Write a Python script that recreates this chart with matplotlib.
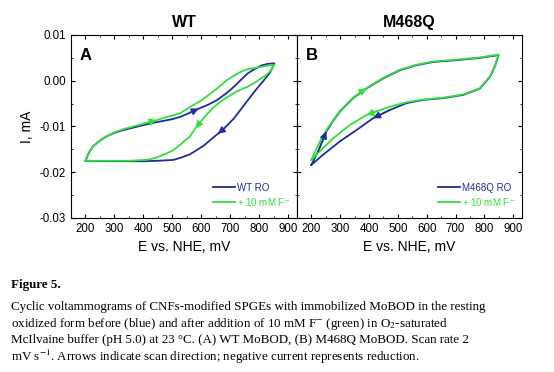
import matplotlib
matplotlib.use("Agg")
import matplotlib.pyplot as plt
from matplotlib.ticker import MultipleLocator, FormatStrFormatter

BLUE, GREEN = "#1f2d9b", "#2fe03a"

# panel A (WT): forward (anodic) and reverse (cathodic) branches, E in mV, I in mA
wt_ro_fwd_E = [200, 210, 225, 250, 272, 300, 330, 400, 450, 500, 527, 560, 591, 625, 655, 685, 713, 740, 760, 785, 806, 830, 852]
wt_ro_fwd_I = [-0.0175, -0.0160, -0.0144, -0.0131, -0.0122, -0.0114, -0.0108, -0.0097, -0.0090, -0.0084, -0.0079, -0.0070,
               -0.0061, -0.0052, -0.0042, -0.0028, -0.0013, 0.0004, 0.0016, 0.0026, 0.0033, 0.0037, 0.0038]
wt_ro_rev_E = [852, 845, 835, 812, 783, 748, 713, 673, 657, 632, 610, 586, 560, 530, 504, 450, 400, 300, 200]
wt_ro_rev_I = [0.0038, 0.0028, 0.0016, -0.0002, -0.0024, -0.0053, -0.0082, -0.0108, -0.0116, -0.0129, -0.0141, -0.0151,
               -0.0161, -0.0168, -0.0173, -0.0175, -0.0176, -0.0176, -0.0175]
wt_f_fwd_E = [200, 210, 225, 250, 272, 300, 330, 400, 446, 500, 527, 562, 600, 632, 660, 690, 715, 737, 765, 795, 820, 850]
wt_f_fwd_I = [-0.0175, -0.0160, -0.0144, -0.0131, -0.0122, -0.0113, -0.0106, -0.0094, -0.0086, -0.0076, -0.0071, -0.0057,
              -0.0043, -0.0028, -0.0014, 0.0002, 0.0012, 0.0020, 0.0026, 0.0029, 0.0032, 0.0035]
wt_f_rev_E = [850, 841, 825, 806, 785, 760, 730, 702, 672, 644, 620, 597, 580, 560, 527, 500, 469, 440, 411, 350, 300, 200]
wt_f_rev_I = [0.0035, 0.0023, 0.0013, 0.0005, -0.0004, -0.0013, -0.0021, -0.0031, -0.0043, -0.0057, -0.0073, -0.0090,
              -0.0104, -0.0122, -0.0140, -0.0153, -0.0162, -0.0169, -0.0173, -0.0175, -0.0175, -0.0175]

# panel B (M468Q)
mq_ro_fwd_E = [200, 223, 252, 275, 298, 345, 391, 449, 507, 565, 623, 704, 785, 849]
mq_ro_fwd_I = [-0.0184, -0.0155, -0.0111, -0.0088, -0.0068, -0.0038, -0.0017, 0.0005, 0.0023, 0.0034, 0.0041, 0.0045, 0.0050, 0.0056]
mq_ro_rev_E = [849, 838, 820, 785, 727, 658, 588, 530, 472, 414, 356, 298, 240, 200]
mq_ro_rev_I = [0.0056, 0.0034, 0.0009, -0.0017, -0.0031, -0.0038, -0.0042, -0.0049, -0.0064, -0.0082, -0.0108, -0.0133, -0.0162, -0.0184]
mq_f_fwd_E = [200, 215, 235, 252, 275, 298, 345, 391, 449, 507, 565, 623, 704, 785, 849]
mq_f_fwd_I = [-0.0173, -0.0152, -0.0126, -0.0108, -0.0087, -0.0067, -0.0037, -0.0016, 0.0006, 0.0024, 0.0035, 0.0042, 0.0046, 0.0051, 0.0057]
mq_f_rev_E = [849, 838, 820, 785, 727, 658, 588, 530, 472, 430, 391, 333, 275, 217, 200]
mq_f_rev_I = [0.0057, 0.0035, 0.0010, -0.0016, -0.0030, -0.0037, -0.0041, -0.0047, -0.0057, -0.0066, -0.0075, -0.0097, -0.0126, -0.0162, -0.0173]

x_ticks = [200, 300, 400, 500, 600, 700, 800, 900]
y_ticks = [-0.03, -0.02, -0.01, 0.00, 0.01]

caption_title = "Figure 5."
caption_lines = [
    "Cyclic voltammograms of CNFs-modified SPGEs with immobilized MoBOD in the resting",
    "oxidized form before (blue) and after addition of 10 mM F$^{-}$ (green) in O$_2$-saturated",
    "McIlvaine buffer (pH 5.0) at 23 °C. (A) WT MoBOD, (B) M468Q MoBOD. Scan rate 2",
    "mV s$^{-1}$. Arrows indicate scan direction; negative current represents reduction.",
]

plt.rcParams["font.family"] = ["Liberation Sans", "DejaVu Sans"]
plt.rcParams["axes.unicode_minus"] = False
plt.rcParams["mathtext.fontset"] = "stix"


def arrow(ax, E, I, i, c):
    ax.annotate("", xy=(E[i], I[i]), xytext=(E[i - 1], I[i - 1]),
                arrowprops=dict(arrowstyle="-|>,head_length=0.6,head_width=0.3", color=c, lw=1,
                                mutation_scale=7, shrinkA=0, shrinkB=0))


def panel(ax, title, letter, lab_ro, ro, f, arrows):
    (rfE, rfI), (rrE, rrI) = ro
    (ffE, ffI), (frE, frI) = f
    ax.plot(rfE + rrE, rfI + rrI, color=BLUE, lw=1.3, label=lab_ro)
    ax.plot(ffE + frE, ffI + frI, color=GREEN, lw=1.3, label="+ 10 mM F$^{-}$")
    for (E, I, i, c) in [(rfE, rfI, arrows[0], BLUE), (rrE, rrI, arrows[1], BLUE),
                         (ffE, ffI, arrows[2], GREEN), (frE, frI, arrows[3], GREEN)]:
        arrow(ax, E, I, i, c)
    ax.set_xlim(150, 930)
    ax.set_ylim(-0.03, 0.01)
    ax.set_xticks(x_ticks)
    ax.set_yticks(y_ticks)
    ax.xaxis.set_minor_locator(MultipleLocator(50))
    ax.yaxis.set_minor_locator(MultipleLocator(0.005))
    ax.yaxis.set_major_formatter(FormatStrFormatter("%.2f"))
    ax.tick_params(which="both", direction="in", top=True, right=True, labelsize=8.3)
    ax.tick_params(which="major", length=3)
    ax.tick_params(which="minor", length=1.6)
    for s in ax.spines.values():
        s.set_linewidth(0.8)
    ax.set_title(title, fontsize=11.5, fontweight="bold", pad=6)
    ax.text(0.04, 0.93, letter, transform=ax.transAxes, fontsize=12, fontweight="bold",
            va="top", ha="left")
    ax.set_xlabel("E vs. NHE, mV", fontsize=10)
    ax.legend(loc="lower right", bbox_to_anchor=(1.0, 0.02), frameon=False, fontsize=7,
              handlelength=2.3, handletextpad=0.15, labelspacing=0.3, labelcolor="linecolor",
              borderaxespad=0.3)


fig = plt.figure(figsize=(5.54, 3.72), dpi=100)
axA = fig.add_axes([0.128, 0.414, 0.408, 0.492])
axB = fig.add_axes([0.536, 0.414, 0.406, 0.492])

# arrow indices: blue fwd, blue rev, green fwd, green rev
panel(axA, "WT", "A", "WT RO",
      ((wt_ro_fwd_E, wt_ro_fwd_I), (wt_ro_rev_E, wt_ro_rev_I)),
      ((wt_f_fwd_E, wt_f_fwd_I), (wt_f_rev_E, wt_f_rev_I)), (12, 8, 8, 12))
panel(axB, "M468Q", "B", "M468Q RO",
      ((mq_ro_fwd_E, mq_ro_fwd_I), (mq_ro_rev_E, mq_ro_rev_I)),
      ((mq_f_fwd_E, mq_f_fwd_I), (mq_f_rev_E, mq_f_rev_I)), (2, 9, 7, 10))
axA.set_ylabel("I, mA", fontsize=10)
axB.tick_params(labelleft=False)

fig.text(0.02, 1 - 285 / 372, caption_title, family="Liberation Serif", fontweight="bold",
         fontsize=9.4, va="center")
for k, line in enumerate(caption_lines):
    fig.text(0.02, 1 - (307 + 16.7 * k) / 372, line, family="Liberation Serif",
             fontsize=9.4, va="center")

fig.savefig("out.png", dpi=100)
